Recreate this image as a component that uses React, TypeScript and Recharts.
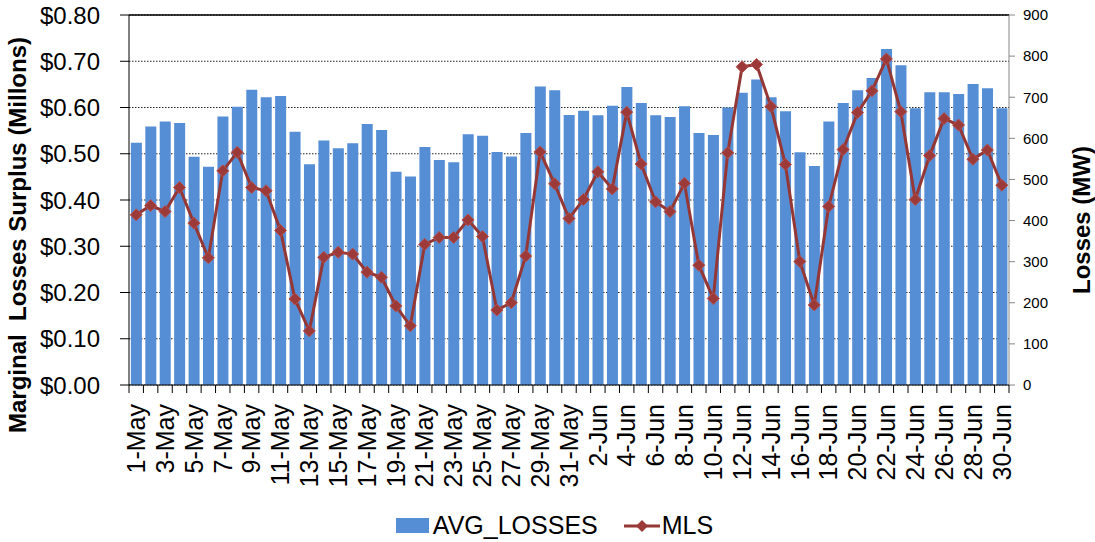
import React from 'react';
import {
  ComposedChart,
  Bar,
  Line,
  XAxis,
  YAxis,
  CartesianGrid,
  Legend,
  ReferenceLine,
} from 'recharts';

const days = [
  '1-May', '2-May', '3-May', '4-May', '5-May', '6-May', '7-May', '8-May', '9-May', '10-May',
  '11-May', '12-May', '13-May', '14-May', '15-May', '16-May', '17-May', '18-May', '19-May', '20-May',
  '21-May', '22-May', '23-May', '24-May', '25-May', '26-May', '27-May', '28-May', '29-May', '30-May',
  '31-May', '1-Jun', '2-Jun', '3-Jun', '4-Jun', '5-Jun', '6-Jun', '7-Jun', '8-Jun', '9-Jun',
  '10-Jun', '11-Jun', '12-Jun', '13-Jun', '14-Jun', '15-Jun', '16-Jun', '17-Jun', '18-Jun', '19-Jun',
  '20-Jun', '21-Jun', '22-Jun', '23-Jun', '24-Jun', '25-Jun', '26-Jun', '27-Jun', '28-Jun', '29-Jun',
  '30-Jun',
];

// MW
const avgLosses = [
  589, 629, 641, 637, 555, 531, 653, 677, 718, 700,
  703, 616, 537, 595, 576, 588, 635, 620, 519, 507,
  579, 547, 542, 610, 606, 567, 556, 613, 726, 717,
  657, 667, 656, 679, 725, 686, 656, 652, 678, 613,
  608, 675, 711, 743, 700, 666, 566, 533, 641, 686,
  717, 747, 817, 778, 673, 712, 712, 708, 732, 722,
  673,
];

// $ millions
const mls = [
  0.368, 0.388, 0.375, 0.427, 0.35, 0.275, 0.463, 0.503, 0.427, 0.42,
  0.334, 0.186, 0.117, 0.276, 0.287, 0.283, 0.244, 0.233, 0.171, 0.128,
  0.304, 0.319, 0.319, 0.357, 0.321, 0.162, 0.178, 0.279, 0.504, 0.435,
  0.36, 0.401, 0.461, 0.424, 0.59, 0.478, 0.396, 0.375, 0.436, 0.259,
  0.187, 0.502, 0.688, 0.693, 0.602, 0.477, 0.267, 0.173, 0.386, 0.509,
  0.589, 0.636, 0.705, 0.591, 0.401, 0.496, 0.576, 0.562, 0.488, 0.508,
  0.432,
];

const leftTicks = [0, 0.1, 0.2, 0.3, 0.4, 0.5, 0.6, 0.7, 0.8];
const rightTicks = [0, 100, 200, 300, 400, 500, 600, 700, 800, 900];

const data = days.map((day, i) => ({ day, AVG_LOSSES: avgLosses[i], MLS: mls[i] }));

const FONT = '"Liberation Sans", Arial, sans-serif';
const BAR_COLOR = '#558ed5';
const LINE_COLOR = '#953735';

const DayTick = (props: any) => {
  const { x, y, payload, index } = props;
  const half = payload && payload.offset ? payload.offset : 7.2;
  return (
    <g>
      <line x1={x - half} x2={x - half} y1={y - 8} y2={y} stroke="#000" />
      {index === days.length - 1 && (
        <line x1={x + half} x2={x + half} y1={y - 8} y2={y} stroke="#000" />
      )}
      {index % 2 === 0 && (
        <text
          x={x}
          y={y + 11}
          dy="0.35em"
          textAnchor="end"
          fontSize={25}
          fontFamily={FONT}
          fill="#000"
          transform={`rotate(-90, ${x}, ${y + 11})`}
        >
          {payload.value}
        </text>
      )}
    </g>
  );
};

const Diamond = (props: any) => {
  const { cx, cy, index } = props;
  if (cx == null || cy == null) return <g key={index} />;
  const r = 6;
  return (
    <path
      key={index}
      d={`M${cx},${cy - r}L${cx + r},${cy}L${cx},${cy + r}L${cx - r},${cy}Z`}
      fill="#9b3a38"
      stroke="#b8504e"
      strokeWidth={1}
    />
  );
};

const LegendBox = () => (
  <div
    style={{
      height: 37,
      display: 'flex',
      justifyContent: 'center',
      alignItems: 'center',
      paddingLeft: 14,
      paddingTop: 4,
      boxSizing: 'border-box',
      fontFamily: FONT,
      fontSize: 25,
      color: '#000',
    }}
  >
    <div style={{ width: 33, height: 15, background: BAR_COLOR, marginRight: 4 }} />
    <span>AVG_LOSSES</span>
    <svg width={36} height={16} style={{ marginLeft: 26, marginRight: 2 }}>
      <line x1={0} x2={36} y1={8} y2={8} stroke={LINE_COLOR} strokeWidth={3} />
      <path d="M18,2L24,8L18,14L12,8Z" fill="#9b3a38" />
    </svg>
    <span>MLS</span>
  </div>
);

export default function App() {
  return (
    <div style={{ position: 'absolute', left: 0, top: 0, background: '#fff' }}>
      <ComposedChart
        width={1095}
        height={542}
        data={data}
        margin={{ top: 15, right: 0, bottom: 0, left: 0 }}
        barCategoryGap="13%"
      >
        <CartesianGrid
          yAxisId="left"
          vertical={false}
          stroke="#222"
          strokeDasharray="1.5 1.5"
        />
        <XAxis
          dataKey="day"
          interval={0}
          height={120}
          tickLine={false}
          axisLine={{ stroke: '#000' }}
          tick={<DayTick />}
        />
        <YAxis
          yAxisId="left"
          width={129}
          domain={[0, 0.8]}
          ticks={leftTicks}
          tickFormatter={(v: number) => `$${v.toFixed(2)}`}
          tick={{ fontSize: 24, fill: '#000', fontFamily: FONT }}
          tickSize={9}
          tickMargin={20}
          axisLine={{ stroke: '#000' }}
          tickLine={{ stroke: '#000' }}
          label={{
            content: () => (
              <text
                x={18}
                y={235}
                dy="0.35em"
                textAnchor="middle"
                fontSize={24}
                fontWeight="bold"
                fontFamily={FONT}
                fill="#000"
                style={{ whiteSpace: 'pre' }}
                transform="rotate(-90, 18, 235)"
              >
                {'Marginal  Losses Surplus (Millons)'}
              </text>
            ),
          }}
        />
        <YAxis
          yAxisId="right"
          orientation="right"
          width={86}
          domain={[0, 900]}
          ticks={rightTicks}
          tick={{ fontSize: 15, fill: '#000', fontFamily: FONT }}
          tickSize={6}
          tickMargin={8}
          axisLine={{ stroke: '#868686' }}
          tickLine={{ stroke: '#868686' }}
          label={{
            content: () => (
              <text
                x={1082}
                y={220}
                dy="0.35em"
                textAnchor="middle"
                fontSize={24}
                fontWeight="bold"
                fontFamily={FONT}
                fill="#000"
                transform="rotate(-90, 1082, 220)"
              >
                Losses (MW)
              </text>
            ),
          }}
        />
        <ReferenceLine yAxisId="left" y={0.8} stroke="#000" strokeWidth={1.3} />
        <Legend verticalAlign="bottom" content={<LegendBox />} />
        <Bar yAxisId="right" dataKey="AVG_LOSSES" fill={BAR_COLOR} isAnimationActive={false} />
        <Line
          yAxisId="left"
          dataKey="MLS"
          stroke={LINE_COLOR}
          strokeWidth={3}
          dot={Diamond}
          activeDot={false}
          isAnimationActive={false}
        />
      </ComposedChart>
    </div>
  );
}
